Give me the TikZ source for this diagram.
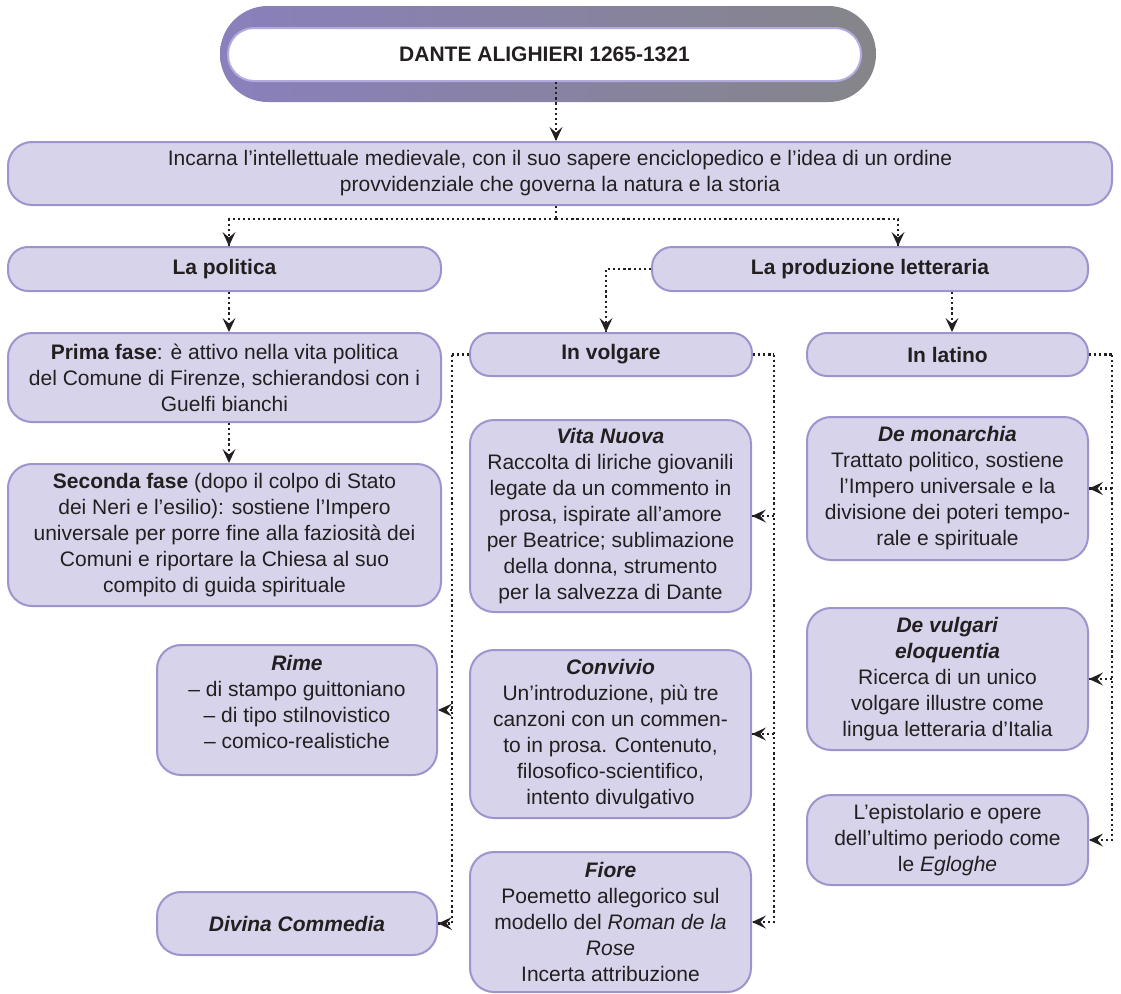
\documentclass[tikz,border=0pt]{standalone}
\usepackage{fontspec}
\setmainfont{Liberation Sans}
\usetikzlibrary{decorations.markings}
\definecolor{boxfill}{HTML}{D7D3EA}
\definecolor{boxline}{HTML}{9D94CE}
\definecolor{ink}{HTML}{231F20}
\definecolor{ringpurple}{HTML}{8A80BC}
\definecolor{ringgray}{HTML}{858589}
\definecolor{ringlight}{HTML}{B3ABDD}

\begin{document}
\begin{tikzpicture}[x=1pt,y=-1pt,
  box/.style={draw=boxline, line width=2pt, fill=boxfill, rounded corners=24pt,
    align=center, text=ink, font=\fontsize{21}{26}\selectfont, inner sep=0pt},
  pill/.style={box, rounded corners=20pt},
  dotline/.style={draw=ink, line width=2.2pt, dash pattern=on 2.2pt off 2.9pt},
  % dotted connector ending in a solid, notched arrowhead
  dotarrow/.style={dotline, postaction={decorate}, decoration={markings,
    mark=at position 1 with {\fill[ink, solid] (0pt,0pt) -- (-14pt,6.5pt) -- (-8.5pt,0pt) -- (-14pt,-6.5pt) -- cycle;}}},
]
\useasboundingbox (0,0) rectangle (1121,993);

% title
\node[minimum width=656pt, minimum height=96pt, rounded corners=47.9pt,
  left color=ringpurple, right color=ringgray, inner sep=0pt] (ring) at (548,54) {};
\node[draw=ringlight, line width=2pt, fill=white, minimum width=633pt, minimum height=53pt,
  rounded corners=26pt, inner sep=0pt, text=ink, font=\fontsize{21}{26}\selectfont\bfseries]
  (title) at (544.5,54.5) {DANTE ALIGHIERI 1265-1321};

% main boxes
\node[box, minimum width=1104pt, minimum height=63pt] (incarna) at (560,173.5)
  {Incarna l’intellettuale medievale, con il suo sapere enciclopedico e l’idea di un ordine\\
   provvidenziale che governa la natura e la storia};
\node[pill, minimum width=433pt, minimum height=44pt] (politica) at (224.5,269) {\bfseries La politica};
\node[pill, minimum width=436pt, minimum height=44pt] (produzione) at (870,269) {\bfseries La produzione letteraria};

% politics column
\node[box, minimum width=433pt, minimum height=89pt] (prima) at (224.5,377.5)
  {\textbf{Prima fase}: è attivo nella vita politica\\del Comune di Firenze, schierandosi con i\\Guelfi bianchi};
\node[box, minimum width=433pt, minimum height=142pt] (seconda) at (224.5,535)
  {\textbf{Seconda fase} (dopo il colpo di Stato\\dei Neri e l’esilio): sostiene l’Impero\\
   universale per porre fine alla faziosità dei\\Comuni e riportare la Chiesa al suo\\compito di guida spirituale};
\node[box, minimum width=280pt, minimum height=130pt] (rime) at (297,710)
  {\textbf{\textit{Rime}}\\– di stampo guittoniano\\– di tipo stilnovistico\\– comico-realistiche\\[-10pt]};
\node[box, minimum width=280pt, minimum height=63pt] (divina) at (297,923.5)
  {\textbf{\textit{Divina Commedia}}};

% vernacular works
\node[pill, minimum width=282pt, minimum height=43pt] (volgare) at (611,354.5) {\bfseries In volgare};
\node[box, minimum width=281pt, minimum height=192pt] (vita) at (610.5,516)
  {\textbf{\textit{Vita Nuova}}\\Raccolta di liriche giovanili\\legate da un commento in\\prosa, ispirate all’amore\\
   per Beatrice; sublimazione\\della donna, strumento\\per la salvezza di Dante};
\node[box, minimum width=281pt, minimum height=168pt] (convivio) at (610.5,734)
  {\textbf{\textit{Convivio}}\\Un’introduzione, più tre\\canzoni con un commen-\\to in prosa. Contenuto,\\
   filosofico-scientifico,\\intento divulgativo};
\node[box, minimum width=281pt, minimum height=140pt] (fiore) at (610.5,922)
  {\textbf{\textit{Fiore}}\\Poemetto allegorico sul\\modello del \textit{Roman de la}\\\textit{Rose}\\Incerta attribuzione};

% Latin works
\node[pill, minimum width=281pt, minimum height=43pt] (latino) at (947.5,354.5) {\bfseries In latino};
\node[box, minimum width=281pt, minimum height=143pt] (demon) at (947.5,488.5)
  {\textbf{\textit{De monarchia}}\\Trattato politico, sostiene\\l’Impero universale e la\\
   divisione dei poteri tempo-\\rale e spirituale};
\node[box, minimum width=281pt, minimum height=142pt] (devulg) at (947.5,679)
  {\textbf{\textit{De vulgari}}\\\textbf{\textit{eloquentia}}\\Ricerca di un unico\\volgare illustre come\\lingua letteraria d’Italia};
\node[box, minimum width=281pt, minimum height=90pt] (epist) at (947.5,840)
  {L’epistolario e opere\\dell’ultimo periodo come\\le \textit{Egloghe}};

% connectors: top levels
\coordinate (fork) at ([xshift=-4pt,yshift=-13pt]incarna.south);
\draw[dotarrow] (title.south -| fork) -- (incarna.north -| fork);
\draw[dotline] ([xshift=-4pt]incarna.south) -- (fork);
\draw[dotarrow] (fork) -| ([xshift=4.5pt]politica.north);
\draw[dotarrow] (fork) -| ([xshift=28pt]produzione.north);

\draw[dotarrow] ([xshift=4.5pt]politica.south) -- ([xshift=4.5pt]prima.north);
\draw[dotarrow] ([xshift=4.5pt]prima.south) -- ([xshift=4.5pt]seconda.north);

\draw[dotarrow] (produzione.west) -| ([xshift=-5pt]volgare.north);
\coordinate (lx) at ([xshift=4.5pt]latino.north);
\draw[dotarrow] (produzione.south -| lx) -- (lx);

% vernacular: left trunk
\coordinate (vl) at ([xshift=-17pt]volgare.west);
\draw[dotline] (volgare.west) -- (vl);
\draw[dotarrow] (vl) |- (divina.east);
\draw[dotarrow] (rime.east -| vl) -- (rime.east);

% vernacular: right trunk
\coordinate (vr) at ([xshift=21pt]volgare.east);
\draw[dotline] (volgare.east) -- (vr);
\draw[dotarrow] (vr) |- (fiore.east);
\draw[dotarrow] (vita.east -| vr) -- (vita.east);
\draw[dotarrow] (convivio.east -| vr) -- (convivio.east);

% Latin: right trunk
\coordinate (lr) at ([xshift=23pt]latino.east);
\draw[dotline] (latino.east) -- (lr);
\draw[dotarrow] (lr) |- (epist.east);
\draw[dotarrow] (demon.east -| lr) -- (demon.east);
\draw[dotarrow] (devulg.east -| lr) -- (devulg.east);
\end{tikzpicture}
\end{document}
